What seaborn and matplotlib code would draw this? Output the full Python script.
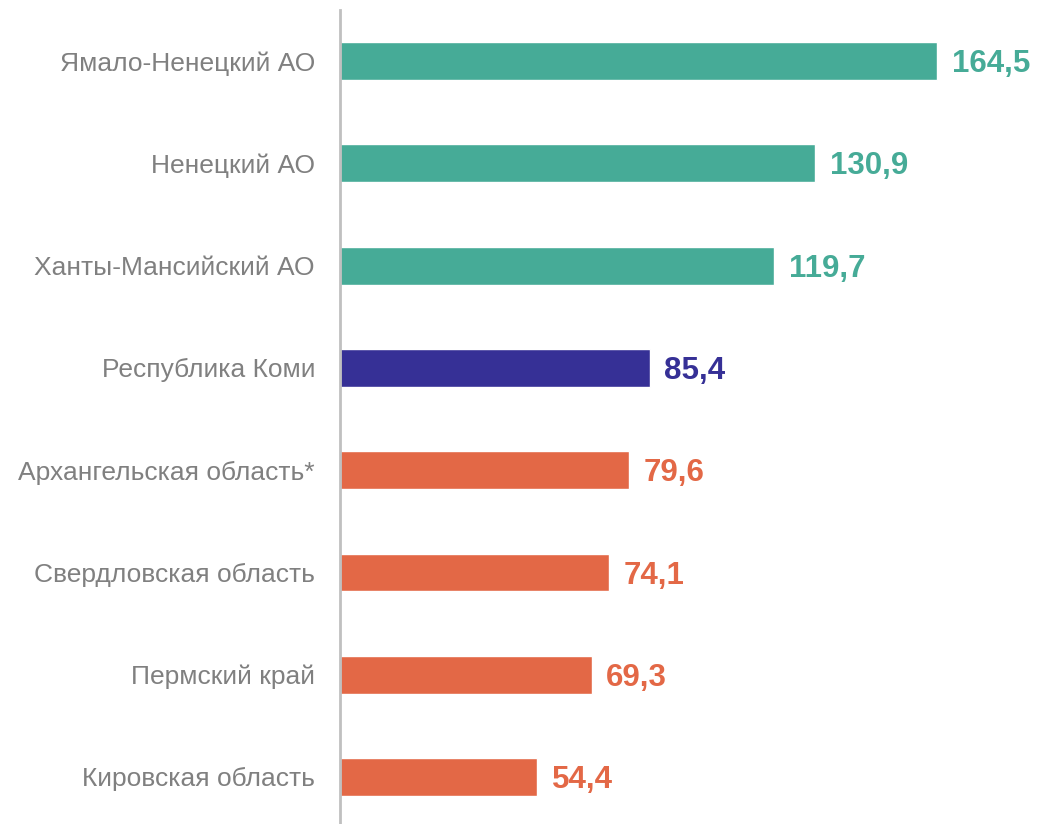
import matplotlib
matplotlib.use("Agg")
import matplotlib.pyplot as plt
import seaborn as sns
import pandas as pd

regions = ["Ямало-Ненецкий АО", "Ненецкий АО", "Ханты-Мансийский АО", "Республика Коми",
           "Архангельская область*", "Свердловская область", "Пермский край", "Кировская область"]
values = [164.5, 130.9, 119.7, 85.4, 79.6, 74.1, 69.3, 54.4]
groups = ["top", "top", "top", "komi", "low", "low", "low", "low"]

palette = {"top": "#46AB97", "komi": "#363096", "low": "#E36846"}

sns.set_theme(style="white")
plt.rcParams['font.family'] = ['Liberation Sans', 'DejaVu Sans']

df = pd.DataFrame({"region": regions, "value": values, "group": groups})

fig = plt.figure(figsize=(10.38, 8.24), dpi=100)
ax = fig.add_axes([340 / 1038, 0.0, 1 - 340 / 1038, 1 - 10 / 824])

sns.barplot(data=df, x="value", y="region", hue="group", palette=palette,
            dodge=False, width=0.37, legend=False, ax=ax, saturation=1)

# value labels next to the bars, comma as decimal separator
for i, (v, g) in enumerate(zip(values, groups)):
    ax.text(v + 4.0, i + 0.03, f"{v:.1f}".replace(".", ","), va="center", ha="left",
            fontsize=22.5, fontweight="bold", color=palette[g])

ax.set_xlim(0, 192.3)
ax.set_ylim(7.46, -0.5)
ax.set_xlabel("")
ax.set_ylabel("")
ax.set_xticks([])
ax.tick_params(axis="y", length=0, pad=18, labelsize=19, labelcolor="#808080")
for s in ["top", "right", "bottom"]:
    ax.spines[s].set_visible(False)
ax.spines["left"].set_color("#C0C0C0")
ax.spines["left"].set_linewidth(2)

fig.savefig("out.png", dpi=100)
